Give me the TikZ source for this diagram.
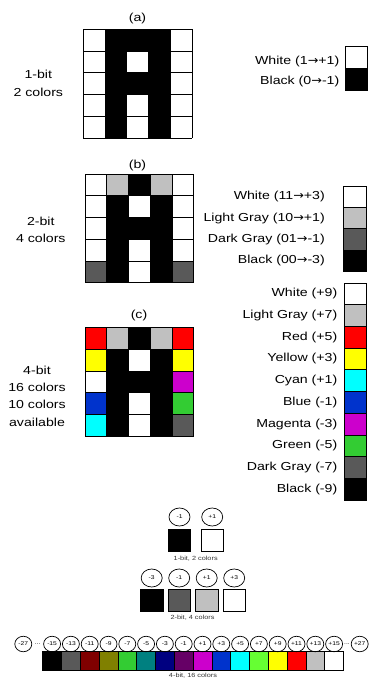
\documentclass[tikz,border=0pt]{standalone}
\usepackage{fontspec}
\setmainfont{Liberation Sans}[FakeStretch=1.22]
\newfontfamily\arrowfont{DejaVu Sans}[FakeStretch=1.1]
\usepackage{xcolor}
\usepackage{tikz}
\usetikzlibrary{shapes.geometric}
\definecolor{wh}{HTML}{FFFFFF}
\definecolor{bk}{HTML}{000000}
\definecolor{lg}{HTML}{C0C0C0}
\definecolor{dg}{HTML}{595959}
\definecolor{rd}{HTML}{FF0000}
\definecolor{yl}{HTML}{FFFF00}
\definecolor{cy}{HTML}{00FFFF}
\definecolor{bl}{HTML}{0033CC}
\definecolor{mg}{HTML}{CC00CC}
\definecolor{gn}{HTML}{33CC33}
\definecolor{mr}{HTML}{800000}
\definecolor{ol}{HTML}{808000}
\definecolor{tl}{HTML}{008080}
\definecolor{nv}{HTML}{000080}
\definecolor{pu}{HTML}{660066}
\definecolor{lm}{HTML}{66FF33}
\newcommand{\lblfont}{\fontsize{11.6}{17.3}\selectfont}
\newcommand{\tinyfont}{\fontsize{5.5}{6}\selectfont}
\newcommand{\capfont}{\fontsize{6}{7}\selectfont}
\newcommand{\toval}{{\arrowfont →}}
\newcommand{\glyphgrid}[3]{%
  \foreach \cols [count=\gr from 0] in {#3} {
    \foreach \col [count=\gc from 0] in \cols
      \fill[fill=\col] (#1+\gc*21.75, #2+\gr*21.75) rectangle ++(21.75,21.75);
  }
  \foreach \gi in {0,...,5} {
    \draw[gridline] (#1+\gi*21.75, #2) -- ++(0,108.75);
    \draw[gridline] (#1, #2+\gi*21.75) -- ++(108.75,0);
  }
}

\begin{document}
\begin{tikzpicture}[x=1pt, y=-1pt,
  gridline/.style={draw=black, line width=0.7pt},
  swatch/.style={draw=black, line width=0.7pt},
  lbl/.style={font=\lblfont, inner sep=0pt, align=center},
  valbub/.style={ellipse, draw, line width=0.7pt, inner sep=0pt,
    minimum width=21, minimum height=18, font=\tinyfont},
  smallbub/.style={valbub, minimum width=17, minimum height=15.5},
  capnote/.style={font=\capfont, text=black!80, inner sep=0pt}]
  \useasboundingbox (0,0) rectangle (368,679);

  % (a) 1-bit
  \node[lbl] (tag-a) at (137.5,18.7) {(a)};
  \node[lbl] (bits-a) at (38.3,83.5) {1-bit\\2 colors};
  \glyphgrid{83.3}{29.3}{{wh,bk,bk,bk,wh},{wh,bk,wh,bk,wh},{wh,bk,bk,bk,wh},{wh,bk,wh,bk,wh},{wh,bk,wh,bk,wh}}
  \foreach \col/\txt/\ty [count=\i from 0] in {wh/{White (1\toval+1)}/61.3, bk/{Black (0\toval-1)}/81.3} {
    \draw[swatch, fill=\col] (345,46.7+\i*22) rectangle ++(22,22);
    \node[lbl, anchor=east] (leg-a-\i) at (339.5,\ty) {\txt};
  }

  % (b) 2-bit
  \node[lbl] (tag-b) at (137.5,165.7) {(b)};
  \node[lbl] (bits-b) at (40.8,229.8) {2-bit\\4 colors};
  \glyphgrid{85}{174}{{wh,lg,bk,lg,wh},{wh,bk,wh,bk,wh},{wh,bk,bk,bk,wh},{wh,bk,wh,bk,wh},{dg,bk,wh,bk,dg}}
  \foreach \col/\txt [count=\i from 0] in {wh/{White (11\toval+3)}, lg/{Light Gray (10\toval+1)},
      dg/{Dark Gray (01\toval-1)}, bk/{Black (00\toval-3)}} {
    \draw[swatch, fill=\col] (343.3,186+\i*21.4) rectangle ++(23.2,21.4);
    \node[lbl, anchor=east] (leg-b-\i) at (325,196.7+\i*21.4) {\txt};
  }

  % (c) 4-bit
  \node[lbl] (tag-c) at (139,315.5) {(c)};
  \node[lbl] (bits-c) at (37,396) {4-bit\\16 colors\\10 colors\\available};
  \glyphgrid{85}{327.5}{{rd,lg,bk,lg,rd},{yl,bk,wh,bk,yl},{wh,bk,bk,bk,mg},{bl,bk,wh,bk,gn},{cy,bk,wh,bk,dg}}
  \foreach \col/\txt [count=\i from 0] in {wh/{White (+9)}, lg/{Light Gray (+7)}, rd/{Red (+5)},
      yl/{Yellow (+3)}, cy/{Cyan (+1)}, bl/{Blue (-1)}, mg/{Magenta (-3)}, gn/{Green (-5)},
      dg/{Dark Gray (-7)}, bk/{Black (-9)}} {
    \draw[swatch, fill=\col] (344.3,283+\i*21.7) rectangle ++(21.7,21.7);
    \node[lbl, anchor=east] (leg-c-\i) at (337.5,293.85+\i*21.7) {\txt};
  }

  % value scales
  \foreach \col/\v [count=\i from 0] in {bk/-1, wh/+1} {
    \draw[swatch, fill=\col] (168.3+\i*32.7,529.3) rectangle ++(22.4,22.4);
    \node[valbub] (one-\i) at (179.5+\i*32.7,517) {\v};
  }
  \node[capnote] (one-cap) at (195.7,558.5) {1-bit, 2 colors};

  \foreach \col/\v [count=\i from 0] in {bk/-3, dg/-1, lg/+1, wh/+3} {
    \draw[swatch, fill=\col] (140.5+\i*27.5,589.3) rectangle ++(22.4,22.4);
    \node[valbub] (two-\i) at (151.7+\i*27.5,578) {\v};
  }
  \node[capnote] (two-cap) at (192.5,617.7) {2-bit, 4 colors};

  \foreach \col/\v [count=\i from 0] in {bk/-15, dg/-13, mr/-11, ol/-9, gn/-7, tl/-5, nv/-3, pu/-1,
      mg/+1, bl/+3, cy/+5, lm/+7, yl/+9, rd/+11, lg/+13, wh/+15} {
    \draw[swatch, fill=\col] (42.7+\i*18.8,651.7) rectangle ++(18.8,19);
    \node[smallbub] (four-\i) at (52.1+\i*18.8,644) {\v};
  }
  \node[smallbub] (four-lo) at (23.3,644) {-27};
  \node[smallbub] (four-hi) at (359.7,644) {+27};
  \node[font=\tinyfont, inner sep=0pt] (dots-lo) at (37.7,644) {...};
  \node[font=\tinyfont, inner sep=0pt] (dots-hi) at (347,644) {...};
  \node[capnote] (four-cap) at (193,675.5) {4-bit, 16 colors};
\end{tikzpicture}
\end{document}
